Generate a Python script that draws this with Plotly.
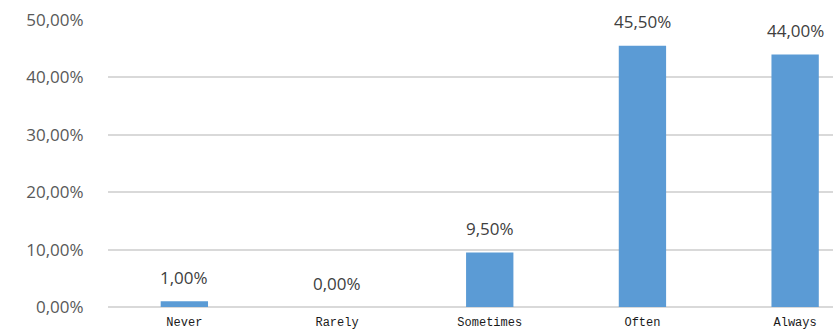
import plotly.graph_objects as go

# Response frequency distribution
categories = ["Never", "Rarely", "Sometimes", "Often", "Always"]
shares = [1.00, 0.00, 9.50, 45.50, 44.00]
tick_values = [0, 10, 20, 30, 40, 50]
tick_labels = ["0,00%", "10,00%", "20,00%", "30,00%", "40,00%", "50,00%"]

bar_color = "#5B9BD5"
grid_color = "#D9D9D9"

fig = go.Figure(
    go.Bar(
        x=list(range(len(categories))),
        y=shares,
        marker=dict(color=bar_color, line=dict(width=0)),
        width=0.31,
        hoverinfo="skip",
    )
)

# value labels above each bar
for i, v in enumerate(shares):
    fig.add_annotation(
        x=i, y=v,
        text=f"{v:.2f}".replace(".", ",") + "%",
        showarrow=False,
        yanchor="middle",
        yshift=24,
        font=dict(family="Open Sans", size=17, color="#404040"),
    )

fig.update_layout(
    width=833, height=331,
    margin=dict(l=108, r=0, t=20, b=24),
    paper_bgcolor="white",
    plot_bgcolor="white",
    showlegend=False,
    xaxis=dict(
        range=[-0.5, 4.248],
        tickmode="array",
        tickvals=list(range(len(categories))),
        ticktext=categories,
        showgrid=False,
        zeroline=False,
        showline=False,
        ticks="outside",
        ticklen=4,
        tickcolor="rgba(0,0,0,0)",
        tickfont=dict(family="Liberation Mono", size=12, color="#1a1a1a"),
    ),
    yaxis=dict(
        range=[0, 50],
        tickmode="array",
        tickvals=tick_values,
        ticktext=tick_labels,
        showgrid=True,
        gridcolor=grid_color,
        gridwidth=1.5,
        zeroline=True,
        zerolinecolor=grid_color,
        zerolinewidth=1.5,
        showline=False,
        ticks="outside",
        ticklen=20,
        tickcolor="rgba(0,0,0,0)",
        tickfont=dict(family="Open Sans", size=17, color="#595959"),
    ),
)

fig.write_html("out.html")
